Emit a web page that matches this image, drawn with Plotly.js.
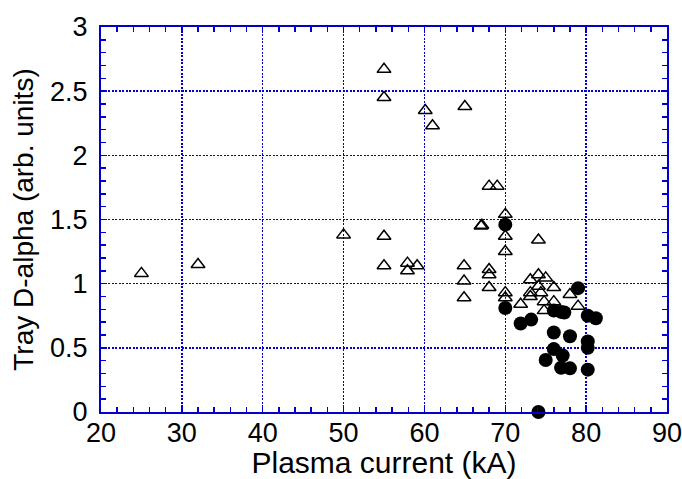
<!DOCTYPE html>
<html>
<head>
<meta charset="utf-8">
<script src="https://cdn.plot.ly/plotly-3.0.1.min.js"></script>
<style>html,body{margin:0;padding:0;background:#fff;}#chart{width:682px;height:479px;}</style>
</head>
<body>
<div id="chart"></div>
<script>
// Open triangles
var triX = [25, 32, 50, 55, 55, 55, 55, 60.1, 61, 65, 57.9, 57.9, 59.1, 64.9, 64.9, 64.9, 67, 67.1, 68, 69, 68, 68, 68, 70, 70, 70, 70, 70, 71.9, 73.1, 74.1, 75, 74.1, 73.1, 73.1, 74.4, 76, 76, 74.8, 74.8, 78, 79, 74.1];
var triY = [1.08, 1.15, 1.38, 2.67, 2.45, 1.37, 1.14, 2.35, 2.23, 2.38, 1.16, 1.10, 1.14, 1.14, 1.02, 0.89, 1.45, 1.455, 1.76, 1.76, 1.11, 1.07, 0.97, 1.54, 1.37, 1.25, 0.93, 0.89, 0.84, 1.03, 1.07, 1.045, 0.98, 0.93, 0.90, 0.93, 0.97, 0.86, 0.86, 0.79, 0.915, 0.825, 1.34];
// Filled circles
var dotX = [70, 79, 70, 71.9, 73.2, 76, 76.9, 77.3, 80.2, 81.2, 76, 78, 80.2, 80.2, 76, 77.1, 75, 76.9, 78, 80.2, 74.1];
var dotY = [1.46, 0.965, 0.81, 0.69, 0.72, 0.79, 0.78, 0.775, 0.75, 0.73, 0.62, 0.59, 0.55, 0.50, 0.49, 0.44, 0.405, 0.345, 0.34, 0.33, 0.0];
// Tick positions
var xMinorTicks = [22,24,26,28,30,32,34,36,38,40,42,44,46,48,50,52,54,56,58,60,62,64,66,68,70,72,74,76,78,80,82,84,86,88];
var yMinorTicks = [0.1,0.2,0.3,0.4,0.5,0.6,0.7,0.8,0.9,1.0,1.1,1.2,1.3,1.4,1.5,1.6,1.7,1.8,1.9,2.0,2.1,2.2,2.3,2.4,2.5,2.6,2.7,2.8,2.9];

var blue = '#0000CC';
var fnt = 'Liberation Sans, Arial, Helvetica, sans-serif';

var traces = [
  {x: triX, y: triY, type: 'scatter', mode: 'markers', cliponaxis: false,
   marker: {symbol: 'triangle-up-open', size: 12, color: '#000', line: {width: 1.5, color: '#000'}}},
  {x: dotX, y: dotY, type: 'scatter', mode: 'markers', cliponaxis: false,
   marker: {symbol: 'circle', size: 14, color: '#000'}},
  // invisible trace that carries the minor-tick overlay axes
  {x: [20], y: [0], xaxis: 'x2', yaxis: 'y2', type: 'scatter', mode: 'markers',
   marker: {opacity: 0}, hoverinfo: 'skip'}
];

var axisCommon = {
  showline: true, linecolor: blue, linewidth: 2, mirror: 'allticks',
  ticks: 'inside', ticklen: 5, tickcolor: blue, tickwidth: 1.5,
  showgrid: true, gridcolor: blue, gridwidth: 1.5, griddash: '2px,1.5px',
  zeroline: false, ticklabeloverflow: 'allow',
  tickfont: {family: fnt, size: 27, color: '#000'}
};
var minorAxis = {
  showline: false, showgrid: false, zeroline: false, showticklabels: false,
  ticks: 'inside', ticklen: 5, tickcolor: blue, tickwidth: 1.5, mirror: 'allticks',
  tickmode: 'array'
};

var layout = {
  width: 682, height: 479,
  margin: {l: 101, r: 15, t: 27, b: 67},
  paper_bgcolor: '#fff', plot_bgcolor: '#fff',
  showlegend: false,
  font: {family: fnt, color: '#000'},
  xaxis: Object.assign({}, axisCommon, {
    range: [20, 90], dtick: 10, tick0: 20,
    ticklabelstandoff: -4,
    title: {text: 'Plasma current (kA)', font: {family: fnt, size: 30, color: '#000'}, standoff: 12}
  }),
  yaxis: Object.assign({}, axisCommon, {
    range: [0, 3], dtick: 0.5, tick0: 0,
    ticklabelstandoff: 6,
    title: {text: 'Tray D-alpha (arb. units)', font: {family: fnt, size: 28, color: '#000'}, standoff: 8}
  }),
  xaxis2: Object.assign({}, minorAxis, {overlaying: 'x', range: [20, 90], tickvals: xMinorTicks, side: 'bottom', anchor: 'y2'}),
  yaxis2: Object.assign({}, minorAxis, {overlaying: 'y', range: [0, 3], tickvals: yMinorTicks, side: 'left', anchor: 'x2'})
};

Plotly.newPlot('chart', traces, layout, {displayModeBar: false, staticPlot: true});
</script>
</body>
</html>
